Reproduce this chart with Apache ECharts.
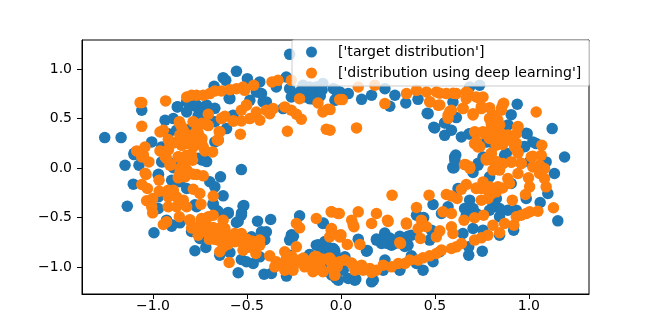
<!DOCTYPE html>
<html><head><meta charset="utf-8">
<script src="https://cdn.jsdelivr.net/npm/echarts@6/dist/echarts.min.js"></script>
<style>html,body{margin:0;padding:0;background:#fff}#c{width:654px;height:331px}</style></head>
<body><div id="c"></div>
<script>
const seriesNames = ["['target distribution']", "['distribution using deep learning']"];
const tickValuesX = [-1, -0.5, 0, 0.5, 1];
const tickValuesY = [-1, -0.5, 0, 0.5, 1];
const targetPoints = [
[-1.257,.309],[-1.17,.309],[-1.149,.029],[-1.101,.137],[-1.075,.029],[-1.007,.265],[-.954,.215],[-.954,.063],[-.936,.484],[-.892,.501],[-.871,.619],[-.821,.568],[-.919,.349],[-.875,.383],[-.892,.046],[-1.06,.585],[-.675,.828],[-.627,.915],[-.613,.888],[-.556,.979],[-.498,.905],[-.591,.703],[-.768,.619],[-.73,.6],[-.76,.53],[-.715,.55],[-.786,.635],[-.706,.45],[-.609,.4],[-.574,.535],[-.671,.265],[-.724,.08],[-.76,.1],[-.53,-.015],[-.485,.686],[-.432,.872],[-.45,.77],[-.414,.67],[-.397,.67],[-.423,.754],[-.344,.821],[-.291,.922],[-.308,.602],[-.273,1.151],[-.273,.804],[-.264,.72],[-.22,.77],[-.167,.821],[-.131,.821],[-.167,.703],[-.131,.754],[-.202,.838],[-.096,.855],[-.025,.703],[-.025,.787],
[-.19,.79],[-.15,.77],[-.11,.73],[-.2,.72],[-.1,.79],[-.15,.7],
[-.005,.77],[.039,.754],[-.032,.686],[.11,.696],[.163,.737],[.26,.626],[.287,.737],[.345,.659],[.41,.696],[.464,.551],[.499,.407],[.552,.457],[.588,.383],[.552,.332],[.614,.511],[.641,.316],[.685,.349],[.738,.838],[.685,.821],[.596,.669],[.938,.646],[.906,.541],[1.124,.4],[.991,.349],[1.021,.265],[1.039,.248],[.871,.417],[.773,.265],[.968,.214],[1.19,.113],[.605,.113],[.596,.012],[.729,.029],[.871,.13],[1.092,.063],[.756,.113],[.809,.08],[1.003,.063],[.234,.804],[-.04,.804],
[-.641,-.088],[-.972,-.071],[-1.105,-.162],[-1.137,-.385],[-.995,-.654],[-.901,-.122],[-.857,-.138],[-.821,-.206],[-.698,-.138],[-.671,-.189],[-.627,-.28],[-.972,-.29],[-.972,-.408],[-.768,-.391],[-.68,-.358],[-.662,-.425],[-.6,-.459],[-.521,-.385],[-.53,-.476],[-.556,-.55],[-.928,-.526],[-.901,-.587],[-.857,-.553],[-.786,-.627],[-.751,-.711],[-.777,-.836],[-.719,-.802],[-.645,-.88],[-.591,-.853],[-.53,-.924],[-.503,-.947],[-.467,-.964],[-.547,-1.058],[-.409,-1.072],[-.37,-1.065],[-.29,-1.092],[-.444,-.536],[-.374,-.519],[-.397,-.644],[-.423,-.644],[-.476,-.695],[-.414,-.728],[-.264,-.678],[-.273,-.728],[-.22,-.482],[-.096,-.56],[-.131,-.779],[-.087,-.762],[-.06,-.813],[-.105,-.846],[-.167,-.873],[-.034,-.83],[-.078,-.947],[-.025,-1.116],[-.432,-.897],[-.273,-.88],
[.596,.003],[.703,-.044],[.791,-.088],[.906,-.155],[1.136,-.054],[1.101,-.256],[1.06,-.347],[1.154,-.533],[.986,-.307],[.919,-.627],[.844,-.678],[.752,-.84],[.68,-.88],[.68,-.796],[.49,-.368],[.402,-.476],[.44,-.5],[.57,-.391],[.535,-.459],[.623,-.206],[.685,-.324],[.658,-.408],[.703,-.408],[.667,-.476],[.72,-.459],[.827,-.307],[.809,-.374],[.844,-.408],[.791,-.425],[.888,-.425],[.933,-.425],[.844,-.492],[.649,-.661],[.703,-.61],[.756,-.627],[.526,-.846],[.481,-.627],[.472,-.728],[.49,-.947],[.437,-1.032],[.402,-.964],[.375,-.678],[.357,-.779],[.313,-1.032],[.287,-.762],[.234,-.678],[.189,-.728],[.216,-.762],[.251,-.762],[.234,-.728],[.269,-.779],[.136,-.84],[.092,-.718],[-.005,-.678],[-.041,-.813],[.021,-.897],[.074,-1.133],[.039,-1.116],[-.014,-1.133],[.163,-1.15],[.172,-1.133],[.234,-.93],[.225,-1.032],[.012,-1.032],[-.05,-1.08],
[-.742,.605],[-.768,.639],[-.715,.639],[-.742,.555],[-.759,.504],[-.706,.504],[-.671,.605],[-.821,.672],[-.869,.622],[-.795,.403],[-.653,.285],[-.954,.2],[-1.101,.15],[-.945,.066],[-.892,.005],[-.971,-.062],[-.741,.083],[-.715,.066],[-.595,.706],[-.671,.47],
[-.517,-.377],[-.529,-.455],[-.547,-.539],[-.405,-.724],[-.6,-.448],[-.68,-.37],[-.653,-.438],[-.777,-.37],[-.901,-.573],[-.795,-.64],
[-.262,-.674],[-.094,-.556],[-.12,-.775],[-.085,-.741],[-.059,-.808],[-.094,-.842],[-.032,-.859],[.14,-.832],[.189,-.717],[.233,-.657],[.233,-.724],[.242,-.758],[.278,-.758],[.26,-.707],[.313,-.69],[.357,-.69],[.34,-.792],[.079,-1.122],[.313,-1.027],[-.165,-.876],[-.014,-.96],[-.041,-.926],[-.253,-.69],[.375,-.886],
[.494,.413],[.553,.46],[.459,.555],[.682,.346],[.986,.352],[.978,.218],[.611,.133],[.602,.005],[.606,.083],[.783,.268],[.818,.234],[.88,.15],[.73,.049],[.889,.437]
];
const learnedPoints = [
[-1.069,.663],[-1.06,.663],[-.933,.68],[-1.06,.423],[-.963,.366],[-.945,.383],[-.821,.72],[-.795,.737],[-.768,.737],[-.733,.737],[-.698,.754],[-.671,.781],[-.636,.781],[-.591,.794],[-.556,.804],[-.521,.821],[-.512,.787],[-.464,.838],[-.367,.872],[-.335,.888],[-.264,.888],[-.22,.703],[-.122,.659],[-.069,.595],[-.096,.568],[-.007,.693],[-.706,.545],[-.786,.467],[-.751,.44],[-.715,.44],[-.857,.45],[-.839,.383],[-.821,.332],[-.919,.289],[-.795,.299],[-.76,.316],[-.848,.231],[-.91,.231],[-.963,.174],[-1.087,.174],[-1.043,.214],[-1.06,.113],[-1.022,.063],[-.937,.164],[-.928,.097],[-.91,.029],[-.866,.113],[-.821,.13],[-.795,.13],[-.839,.046],[-.786,.214],[-.733,.214],[-.724,.174],[-.683,.164],[-.653,.282],[-.644,.366],[-.636,.501],[-.618,.524],[-.574,.477],[-.53,.477],[-.485,.501],[-.535,.343],[-.53,.585],[-.503,.636],[-.45,.568],[-.432,.484],[-.397,.585],[-.379,.551],[-.361,.602],[-.299,.619],[-.264,.585],[-.237,.545],[-.211,.494],[-.285,.373],[-.078,.393],[-.83,-.005],
[.007,.693],[.083,.407],[.234,.653],[.092,.821],[.18,.838],[.349,.754],[.402,.787],[.455,.77],[.508,.77],[.561,.754],[.614,.754],[.667,.77],[.473,.669],[.517,.636],[.588,.585],[.57,.535],[.667,.703],[.649,.602],[.703,.551],[.72,.72],[.756,.72],[.747,.602],[.791,.612],[.862,.646],[.853,.585],[.809,.535],[.791,.501],[.835,.484],[.827,.417],[1.039,.568],[.941,.417],[.933,.349],[.853,.349],[.809,.383],[.765,.349],[.717,.356],[.711,.248],[.729,.214],[.844,.282],[.897,.282],[.924,.214],[.941,.164],[.826,.231],[.8,.147],[.773,.097],[.818,.063],[.658,.036],[.862,.046],[.906,.063],[.959,.046],[1.021,.12],[1.069,.231],[1.066,.13],[1.057,.029],[1.021,.012],[-.058,.592],[-.058,.383],
[-.857,-.004],[-.83,-.02],[-.83,-.088],[-.866,-.098],[-.804,-.054],[-.768,-.064],[-.733,-.078],[-.968,-.122],[-1.037,-.064],[-1.06,-.165],[-1.03,-.206],[-.967,-.233],[-1.034,-.33],[-1.002,-.307],[-1.002,-.452],[-1.007,-.391],[-.919,-.223],[-.892,-.223],[-.919,-.29],[-.875,-.29],[-.919,-.391],[-.875,-.391],[-.839,-.324],[-.821,-.391],[-.86,-.492],[-.786,-.213],[-.751,-.256],[-.68,-.283],[-.745,-.364],[-.945,-.57],[-.928,-.543],[-.804,-.526],[-.786,-.593],[-.742,-.509],[-.706,-.492],[-.68,-.476],[-.76,-.678],[-.742,-.593],[-.706,-.593],[-.698,-.678],[-.662,-.644],[-.627,-.526],[-.618,-.61],[-.653,-.728],[-.609,-.728],[-.627,-.796],[-.645,-.846],[-.565,-.661],[-.53,-.661],[-.565,-.745],[-.521,-.83],[-.521,-.762],[-.476,-.779],[-.432,-.728],[-.432,-.779],[-.453,-.863],[-.595,-.954],[-.237,-.56],[-.22,-.604],[-.131,-.509],[-.237,-.796],[-.052,-.442],[-.016,-.459],[-.052,-.627],[-.06,-.695],[-.007,-.695],[-.379,-.887],[-.344,-.947],[-.352,-.998],[-.299,-.846],[-.29,-.914],[-.308,-.964],[-.264,-.947],[-.255,-1.032],[-.299,-1.032],[-.193,-.93],[-.193,-.998],[-.14,-.897],[-.122,-.964],[-.149,-1.048],[-.096,-1.048],[-.069,-.914],[-.043,-.981],[-.034,-1.082],[-.007,-.947],
[-.05,-.442],[-.009,-.459],[.092,-.442],[.057,-.526],[.069,-.593],[.163,-.56],[.189,-.459],[.248,-.526],[.272,-.273],[.349,-.566],[.402,-.398],[.469,-.273],[.561,-.267],[.588,-.283],[.618,-.307],[.641,-.213],[.667,-.165],[.543,-.442],[.588,-.459],[.655,-.526],[.711,-.502],[.759,-.476],[.747,-.324],[.782,-.307],[.72,-.206],[.756,-.139],[.747,-.206],[.791,-.189],[.835,-.189],[.827,-.24],[.912,-.324],[.809,-.577],[.844,-.654],[.871,-.56],[.92,-.577],[.933,-.492],[.986,-.459],[1.048,-.435],[1.131,-.401],[1.004,-.442],[.959,-.476],[.982,-.267],[1.004,-.189],[.998,-.098],[1.057,-.054],[1.083,-.105],[1.092,-.189],[1.083,-.004],[.888,-.105],[.897,-.155],[.942,-.054],[.809,-.02],[.844,-.02],[.685,.013],[.588,-.593],[.596,-.661],[.526,-.634],[.508,-.695],[.428,-.526],[.455,-.593],[.411,-.61],[.423,-.711],[.317,-.762],[.101,-.772],[.034,-.772],[-.002,-.695],[-.05,-.661],[-.05,-.61],[.021,-.93],[.057,-.964],[.074,-1.032],[.11,-.981],[.118,-1.032],[.154,-1.015],[.163,-1.055],[.189,-1.032],[.225,-.981],[.269,-.998],[.305,-.964],[.34,-.964],[.366,-.93],[.411,-.93],[.437,-.907],[.472,-.887],[.508,-.863],[.535,-.829],[.588,-.813],[.614,-.796],[.641,-.762],[.711,-.728],[.747,-.705],[.782,-.678],[-.041,-.947],[-.032,-1.082],[-.041,-1.015],
[-.86,.47],[-.848,.42],[-.812,.336],[-.857,.336],[-.918,.184],[-.848,.234],[-.759,.352],[-.786,.47],[-.741,.453],[-.706,.43],[-.635,.504],[-.57,.477],[-.502,.639],[-.648,.369],[-.658,.285],[-.741,.251],[-.803,.133],[-.865,.116],[-.936,.167],[-1.051,.133],[-.906,.039],[-.936,.116],[-.839,.032],[-.857,-.052],[-1.042,-.052],[-.821,-.018],[-.786,-.062],
[-.804,-.522],[-.795,-.606],[-.742,-.522],[-.742,-.606],[-.706,-.606],[-.662,-.657],[-.262,-.893],[-.2,-.91],[-.13,-.893],[-.138,-1.027],[-.191,-.977],[-.094,-1.044],[-.059,-.91],[-.05,-.96],[.056,-.96],[.0,-.674],[.313,-.751],[.065,-.573],[.251,-.539],[.348,-.556],
[.866,.656],[.854,.605],[.792,.504],[.845,.437],[.942,.42],[.8,.403],[.756,.369],[.712,.369],[.721,.268],[.739,.218],[.836,.335],[.889,.335],[.933,.251],[.942,.15],[.827,.251],[.8,.15],[.774,.083],[.827,.066],[.668,.032],[.686,-.002],[.907,.059],[.96,.049],[1.013,.116],[.473,.672],[.526,.639],[.579,.571],[.57,.504],[.65,.605],[.703,.538],[.677,.757],[.739,.706],[.747,.622],[.597,.757],[.526,.757],
[-.72,-.64],[-.68,-.6],[-.64,-.6],[-.6,-.68],[-.58,-.7],[-.63,-.7],[-.67,-.72],[-.7,-.72],[-.74,-.55],[-.6,-.77],[-.55,-.7],[-.5,-.72],[-.47,-.74],[-.49,-.8],
[-.78,.27],[-.74,.3],[-.82,.25],[-.79,.08],[-.88,.26],[-.77,.37],
[.8,.45],[.82,.37],[.85,.3],[.79,.3],[.86,.24],
[-.27,-.9],[-.25,-.98],[-.22,-.93],[-.17,-.96],[-.1,-.92],[-.11,-1.0],[-.02,-1.0],
[.72,-.2],[.78,-.22],[.8,-.26],[.86,-.2]
];
const font = 'DejaVu Sans';
const fmt = v => v.toFixed(1).replace('-', '\u2212');
const axisCommon = (vals, margin, pad) => ({
  type: 'value', scale: true,
  axisLine: {show: true, onZero: false, lineStyle: {color: '#000', width: 1}},
  axisTick: {show: true, length: 5, inside: false, lineStyle: {color: '#000', width: 1}, customValues: vals},
  axisLabel: {show: true, color: '#000', fontFamily: font, fontSize: 14, margin, padding: pad, formatter: fmt, customValues: vals, showMinLabel: true, showMaxLabel: true},
  splitLine: {show: false}
});
const chart = echarts.init(document.getElementById('c'), null, {renderer: 'canvas'});
chart.setOption({
  animation: false,
  backgroundColor: '#fff',
  grid: {left: 82, right: 65, top: 40, bottom: 37, show: true, borderColor: '#000', borderWidth: 1, backgroundColor: 'transparent'},
  xAxis: Object.assign(axisCommon(tickValuesX, 5, [0,0,0,0]), {min: -1.378, max: 1.32}),
  yAxis: Object.assign(axisCommon(tickValuesY, 10, [8,0,0,0]), {min: -1.273, max: 1.296}),
  legend: {
    show: true, orient: 'vertical', left: 292, top: 40,
    padding: [5, 8, 6, 14], itemWidth: 11, itemHeight: 11, itemGap: 7,
    backgroundColor: 'rgba(255,255,255,0.8)', borderColor: '#ccc', borderWidth: 1, borderRadius: 2,
    textStyle: {color: '#000', fontFamily: font, fontSize: 14.1, padding: [0, 0, 0, 16]},
    data: seriesNames.map(n => ({name: n, icon: 'circle'})), z: 10
  },
  series: [
    {name: seriesNames[0], type: 'scatter', data: targetPoints, symbolSize: 11.5, itemStyle: {color: '#1f77b4', opacity: 1}, z: 2},
    {name: seriesNames[1], type: 'scatter', data: learnedPoints, symbolSize: 11.5, itemStyle: {color: '#ff7f0e', opacity: 1}, z: 3}
  ]
});
</script></body></html>
